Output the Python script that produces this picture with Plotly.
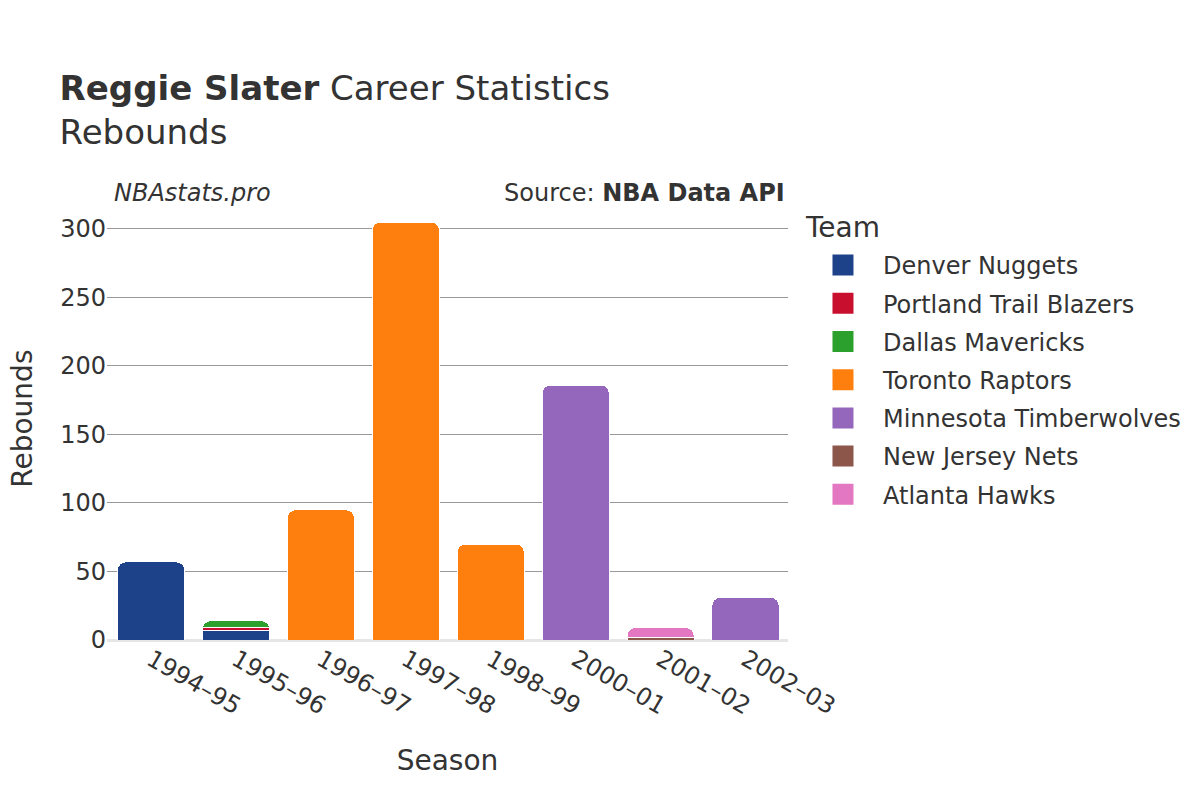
import plotly.graph_objects as go

seasons = ["1994–95", "1995–96", "1996–97", "1997–98", "1998–99", "2000–01", "2001–02", "2002–03"]

teams = [
    "Denver Nuggets",
    "Portland Trail Blazers",
    "Dallas Mavericks",
    "Toronto Raptors",
    "Minnesota Timberwolves",
    "New Jersey Nets",
    "Atlanta Hawks",
]

team_colors = ["#1d428a", "#c8102e", "#2ca02c", "#ff7f0e", "#9467bd", "#8c564b", "#e377c2"]

# rebounds per season for each team (None = did not play there)
denver = [57, 7, None, None, None, None, None, None]
portland = [None, 2, None, None, None, None, None, None]
dallas = [None, 5, None, None, None, None, None, None]
toronto = [None, None, 95, 305, 70, None, None, None]
minnesota = [None, None, None, None, None, 186, None, 31]
new_jersey = [None, None, None, None, None, None, 2, None]
atlanta = [None, None, None, None, None, None, 7, None]

team_values = [denver, portland, dallas, toronto, minnesota, new_jersey, atlanta]

font_family = "DejaVu Sans"
text_color = "#333333"

fig = go.Figure()
for name, color, vals in zip(teams, team_colors, team_values):
    fig.add_trace(go.Bar(
        x=seasons,
        y=vals,
        name=name,
        legendgroup=name,
        showlegend=False,
        marker=dict(color=color, line=dict(color="white", width=1)),
    ))

# legend entries with bigger swatches
for name, color in zip(teams, team_colors):
    fig.add_trace(go.Scatter(
        x=[seasons[0]],
        y=[None],
        mode="markers",
        name=name,
        legendgroup=name,
        marker=dict(symbol="square", size=16, color=color,
                    line=dict(color=color, width=5)),
        hoverinfo="skip",
    ))

fig.update_layout(
    barmode="stack",
    barcornerradius=8,
    bargap=0.21,
    width=1200,
    height=800,
    plot_bgcolor="white",
    paper_bgcolor="white",
    font=dict(family=font_family, color=text_color, size=24),
    title=dict(
        text="<b>Reggie Slater</b> Career Statistics<br>Rebounds",
        x=0.043,
        xanchor="left",
        y=0.885,
        yanchor="top",
        font=dict(size=34, color=text_color),
    ),
    margin=dict(l=99, r=420, t=200, b=168),
    legend=dict(
        font=dict(size=24),
        traceorder="grouped",
        x=1.022,
        xanchor="left",
        y=0.919,
        yanchor="top",
        itemwidth=70,
        tracegroupgap=4,
    ),
    xaxis=dict(
        title=dict(text="Season", font=dict(size=28), standoff=30),
        tickangle=30,
        tickfont=dict(size=24),
        showgrid=False,
        showline=False,
        ticks="",
        automargin=False,
    ),
    yaxis=dict(
        range=[0, 315.3],
        tickvals=[0, 50, 100, 150, 200, 250, 300],
        tickfont=dict(size=24),
        showgrid=True,
        gridcolor="#999999",
        gridwidth=1,
        zeroline=True,
        zerolinecolor="#e6e6e6",
        zerolinewidth=3,
        ticks="",
        automargin=False,
    ),
    annotations=[
        dict(
            text="Rebounds",
            xref="paper", yref="paper",
            x=-0.1235, y=0.512, xanchor="center", yanchor="middle",
            textangle=-90,
            showarrow=False,
            font=dict(size=28, color=text_color),
        ),
        dict(
            text="Team",
            xref="paper", yref="paper",
            x=1.0216, y=0.956, xanchor="left", yanchor="middle",
            showarrow=False,
            font=dict(size=28, color=text_color),
        ),
        dict(
            text="<i>NBAstats.pro</i>",
            xref="paper", yref="paper",
            x=0.007, y=1.0, xanchor="left", yanchor="bottom",
            yshift=-1,
            showarrow=False,
            font=dict(size=24, color=text_color),
        ),
        dict(
            text="Source: <b>NBA Data API</b>",
            xref="paper", yref="paper",
            x=0.998, y=1.0, xanchor="right", yanchor="bottom",
            yshift=-1,
            showarrow=False,
            font=dict(size=24, color=text_color),
        ),
    ],
)

fig.write_html("out.html")
